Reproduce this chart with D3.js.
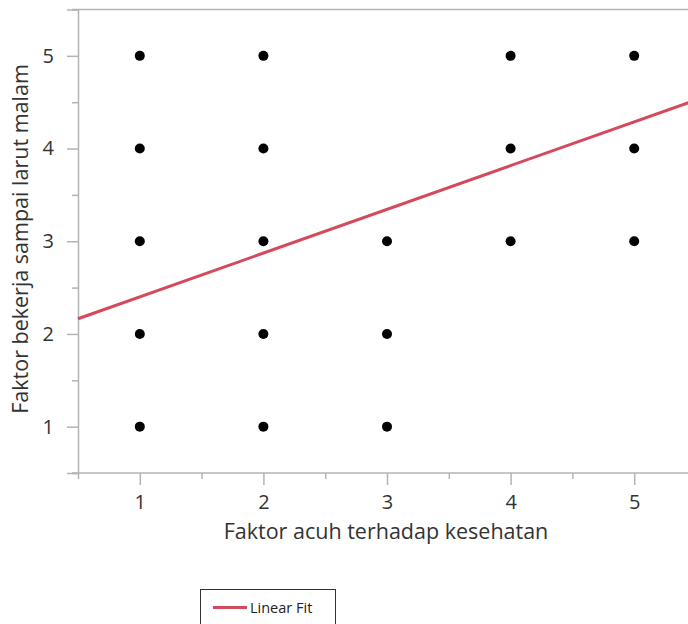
<!DOCTYPE html>
<html>
<head>
<meta charset="utf-8">
<script src="https://cdn.jsdelivr.net/npm/d3@7"></script>
<style>
  body { margin: 0; background: #fff; }
  svg { display: block; }
  svg text { font-family: "Open Sans", "Noto Sans", sans-serif; }
</style>
</head>
<body>
<div id="chart"></div>
<script>
// data
const xValues = [1, 1, 1, 1, 1, 2, 2, 2, 2, 2, 3, 3, 3, 4, 4, 4, 5, 5, 5]
const yValues = [5, 4, 3, 2, 1, 5, 4, 3, 2, 1, 3, 2, 1, 5, 4, 3, 5, 4, 3]
const xTicks = [1, 2, 3, 4, 5]
const yTicks = [1, 2, 3, 4, 5]
const fitCoef = [1.928, 0.472]   // intercept, slope
const xTitle = 'Faktor acuh terhadap kesehatan'
const yTitle = 'Faktor bekerja sampai larut malam'
const legendLabel = 'Linear Fit'

const W = 688, H = 624
const axisColor = '#b4b4b4'
const fitColor = '#d44a5c'

const svg = d3.select('#chart').append('svg')
    .attr('width', W).attr('height', H)

const x = d3.scaleLinear().domain([0.5, 5.5]).range([78, 696])
const y = d3.scaleLinear().domain([0.5, 5.5]).range([473, 9.5])

// frame top line
svg.append('line')
    .attr('x1', 72).attr('x2', W)
    .attr('y1', y(5.5)).attr('y2', y(5.5))
    .attr('stroke', axisColor).attr('stroke-width', 1.5)

// y axis
const yAxis = svg.append('g')
    .attr('transform', 'translate(78,0)')
    .call(d3.axisLeft(y).tickValues(yTicks).tickSize(11).tickPadding(13).tickFormat(d3.format('d')))
yAxis.select('.domain').attr('stroke', axisColor).attr('stroke-width', 1.5)
yAxis.selectAll('.tick line').attr('stroke', axisColor).attr('stroke-width', 1.5)
yAxis.selectAll('.tick text').attr('fill', '#333').style('font-size', '20px')
svg.append('g')
    .attr('transform', 'translate(78,0)')
    .call(d3.axisLeft(y).tickValues([0.5, 1.5, 2.5, 3.5, 4.5, 5.5]).tickSize(6).tickFormat(''))
    .call(g => g.select('.domain').remove())
    .selectAll('.tick line').attr('stroke', axisColor).attr('stroke-width', 1.5)

// x axis
const xAxis = svg.append('g')
    .attr('transform', 'translate(0,473)')
    .call(d3.axisBottom(x).tickValues(xTicks).tickSize(12).tickPadding(10).tickFormat(d3.format('d')))
xAxis.select('.domain').remove()
xAxis.selectAll('.tick line').attr('stroke', axisColor).attr('stroke-width', 1.5)
xAxis.selectAll('.tick text').attr('fill', '#333').style('font-size', '20px')
svg.append('g')
    .attr('transform', 'translate(0,473)')
    .call(d3.axisBottom(x).tickValues([0.5, 1.5, 2.5, 3.5, 4.5]).tickSize(6).tickFormat(''))
    .call(g => g.select('.domain').remove())
    .selectAll('.tick line').attr('stroke', axisColor).attr('stroke-width', 1.5)
svg.append('line')
    .attr('x1', 72).attr('x2', W)
    .attr('y1', 473).attr('y2', 473)
    .attr('stroke', axisColor).attr('stroke-width', 1.5)

// fit line
const xd = x.domain()
svg.append('line')
    .attr('x1', x(xd[0])).attr('y1', y(fitCoef[0] + fitCoef[1] * xd[0]))
    .attr('x2', x(xd[1])).attr('y2', y(fitCoef[0] + fitCoef[1] * xd[1]))
    .attr('stroke', fitColor).attr('stroke-width', 3)

// points
svg.selectAll('circle.pt')
    .data(d3.range(xValues.length))
    .enter()
    .append('circle')
    .attr('class', 'pt')
    .attr('cx', i => x(xValues[i]))
    .attr('cy', i => y(yValues[i]))
    .attr('r', 5)
    .attr('fill', '#000')

// titles
svg.append('text')
    .attr('x', 386).attr('y', 539)
    .attr('text-anchor', 'middle')
    .attr('fill', '#333')
    .style('font-size', '21.5px')
    .text(xTitle)
svg.append('text')
    .attr('transform', 'translate(28,239) rotate(-90)')
    .attr('text-anchor', 'middle')
    .attr('fill', '#333')
    .style('font-size', '21.5px')
    .text(yTitle)

// legend
const lg = svg.append('g')
lg.append('rect')
    .attr('x', 200.5).attr('y', 589.5)
    .attr('width', 135).attr('height', 50)
    .attr('fill', 'none').attr('stroke', '#333').attr('stroke-width', 1)
lg.append('line')
    .attr('x1', 213).attr('x2', 247)
    .attr('y1', 607.5).attr('y2', 607.5)
    .attr('stroke', fitColor).attr('stroke-width', 3)
lg.append('text')
    .attr('x', 250).attr('y', 612.5)
    .attr('fill', '#222')
    .style('font-size', '14.5px')
    .text(legendLabel)
</script>
</body>
</html>
